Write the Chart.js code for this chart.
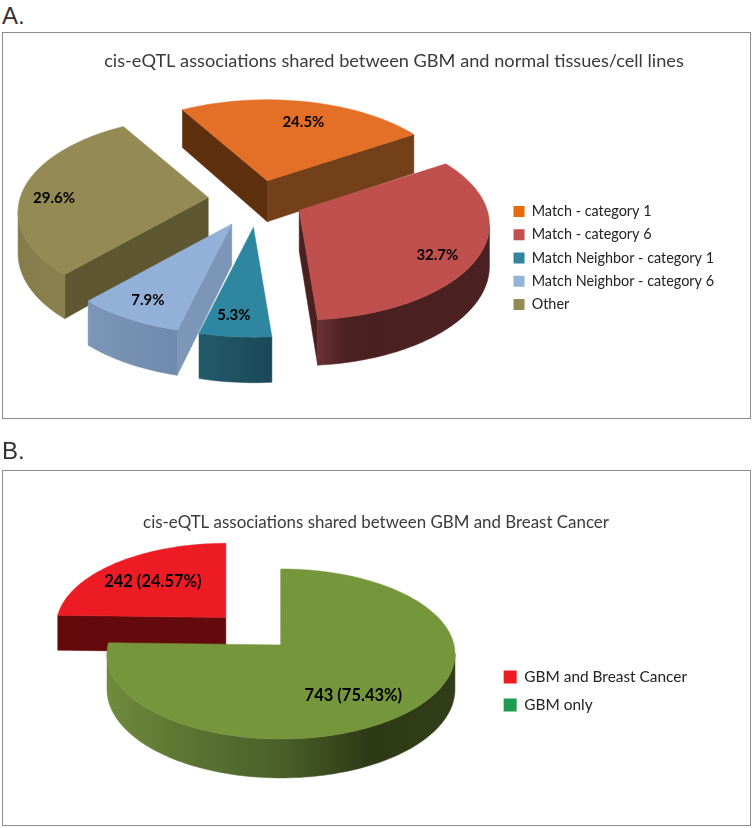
<!DOCTYPE html>
<html lang="en">
<head>
  <meta charset="UTF-8">
  <title>cis-eQTL associations</title>
  <script src="https://cdn.jsdelivr.net/npm/chart.js"></script>
  <style>
    html, body { margin: 0; padding: 0; width: 755px; height: 828px; overflow: hidden; background: #fff; }
    .tag { position: absolute; left: 2px; font: 24px "Liberation Sans", Arial, sans-serif; color: #333; line-height: 28px; }
    .box { position: absolute; left: 2px; width: 749px; border: 1.5px solid #8c8c8c; box-sizing: border-box; }
    canvas { position: absolute; left: 0; }
  </style>
</head>
<body>
  <div class="tag" style="top:2px">A.</div>
  <div class="box" style="top:32px;height:387px"></div>
  <canvas id="chartA" width="755" height="450" style="top:33px"></canvas>

  <div class="tag" style="top:437px">B.</div>
  <div class="box" style="top:470px;height:356px"></div>
  <canvas id="chartB" width="755" height="442" style="top:470px"></canvas>

  <script>
    const titleA = 'cis-eQTL associations shared between GBM and normal tissues/cell lines';
    const categoriesA = ['Match - category 1', 'Match - category 6', 'Match Neighbor - category 1', 'Match Neighbor - category 6', 'Other'];
    const valuesA = [24.5, 32.7, 5.3, 7.9, 29.6];
    const explodeA = [40, 46, 55, 55, 50];
    const legendColorsA = ['#e46c0a', '#c0504d', '#31859c', '#95b3d7', '#948a54'];
    const faceColorsA = ['#e46f27', '#c0504d', '#2e86a0', '#93b1d8', '#948a54'];
    const edgeColorsA = [['#5f300e', '#74401a'], ['#4a2020', '#4a2020'], ['#215868', '#215868'], ['#7b96b6', '#7b96b6'], ['#5e5732', '#5e5732']];
    const rimColorsA = [['#74401a'], ['#6b3032', '#4a2020', '#4a1f20', '#4a2020', '#4a2020', '#4a2020', '#4a2020'], ['#235b6b', '#1a4858'], ['#7b96b6', '#6f8aac'], ['#867c4b', '#8a804d']];
    const sizeA = [1, 1, 1, 1, 1];
    const labelAlongA = [0.54, 0.56, 0.58, 0.5, 0.44];
    const labelRadiusA = [0.73, 0.82, 0.83, 0.83, 0.82];
    const drawOrderA = [0, 4, 1, 3, 2];

    const titleB = 'cis-eQTL associations shared between GBM and Breast Cancer';
    const categoriesB = ['GBM and Breast Cancer', 'GBM only'];
    const valuesB = [242, 743];
    const explodeB = [69, 10];
    const legendColorsB = ['#ed1c24', '#1f9b4f'];
    const faceColorsB = ['#ed1c24', '#76963c'];
    const edgeColorsB = [['#640a0c', '#640a0c'], ['#76963c', '#76963c']];
    const rimColorsB = [['#640a0c'], ['#6f8b3c', '#5a7332', '#4a6028', '#2e3a16', '#303d18']];
    const sizeB = [0.975, 1];
    const labelAlongB = [0.49, 0.535];
    const labelRadiusB = [0.64, 0.69];
    const drawOrderB = [0, 1];

    // fake 3D: takes the angles and radius Chart.js worked out for each arc
    // and puts them through a small perspective projection
    const pie3d = {
      id: 'pie3d',
      beforeDatasetDraw() {
        return false; // the flat arcs are replaced below
      },
      afterDatasetsDraw(chart, args, o) {
        const ctx = chart.ctx;
        const arcs = chart.getDatasetMeta(0).data;

        function apex(arc) {
          const mid = (arc.startAngle + arc.endAngle) / 2;
          return {
            x: o.cx + arc.options.offset * Math.cos(mid),
            y: o.cy + arc.options.offset * o.tilt * Math.sin(mid),
            py: 0
          };
        }
        function project(arc, i, angle, rho) {
          const a = apex(arc);
          const r = arc.outerRadius * o.size[i];
          const px = rho * Math.cos(angle);
          const py = rho * Math.sin(angle);
          const s = 1 / (1 - o.perspective * py);
          return { x: a.x + r * px * s, y: a.y + r * o.tilt * py * s, py: py };
        }
        function drop(p) {
          return { x: p.x, y: p.y + o.depth / (1 - 0.1 * p.py) };
        }
        function fillPath(points, fill) {
          ctx.beginPath();
          points.forEach((p, i) => (i ? ctx.lineTo(p.x, p.y) : ctx.moveTo(p.x, p.y)));
          ctx.closePath();
          ctx.fillStyle = fill;
          ctx.fill();
          ctx.strokeStyle = fill;
          ctx.lineWidth = 0.5;
          ctx.stroke();
        }

        o.order.forEach((i) => {
          const arc = arcs[i];
          const a = apex(arc);
          const steps = Math.max(8, Math.round((arc.endAngle - arc.startAngle) * 40));
          const rim = [];
          for (let n = 0; n <= steps; n++) {
            rim.push(project(arc, i, arc.startAngle + (arc.endAngle - arc.startAngle) * n / steps, 1));
          }
          const first = rim[0];
          const last = rim[rim.length - 1];

          // only edges running right to left face the viewer
          if (last.x > a.x) fillPath([last, a, drop(a), drop(last)], o.edgeColors[i][1]);
          if (first.x < a.x) fillPath([a, first, drop(first), drop(a)], o.edgeColors[i][0]);

          const front = [];
          for (let n = 1; n < rim.length; n++) {
            if (rim[n].x < rim[n - 1].x) {
              if (!front.length) front.push(rim[n - 1]);
              front.push(rim[n]);
            }
          }
          if (front.length) {
            const grad = ctx.createLinearGradient(front[front.length - 1].x, 0, front[0].x, 0);
            const stops = o.rimColors[i];
            stops.forEach((c, n) => grad.addColorStop(stops.length > 1 ? n / (stops.length - 1) : 0, c));
            fillPath(front.concat(front.map(drop).reverse()), grad);
          }

          fillPath([a].concat(rim), o.faceColors[i]);
        });

        ctx.fillStyle = '#000';
        ctx.font = o.labelFont;
        ctx.textAlign = 'center';
        ctx.textBaseline = 'middle';
        arcs.forEach((arc, i) => {
          const angle = arc.startAngle + (arc.endAngle - arc.startAngle) * o.labelAlong[i];
          const p = project(arc, i, angle, o.labelRadius[i]);
          ctx.fillText(o.labelText(i), p.x, p.y);
        });
      }
    };

    function makePie(id, cfg) {
      return new Chart(document.getElementById(id), {
        type: 'pie',
        plugins: [pie3d],
        data: {
          labels: cfg.labels,
          datasets: [{
            data: cfg.values,
            backgroundColor: cfg.legendColors,
            borderWidth: 0,
            offset: cfg.explode
          }]
        },
        options: {
          responsive: false,
          animation: false,
          rotation: cfg.rotation,
          radius: cfg.radius,
          layout: { padding: cfg.padding },
          plugins: {
            tooltip: { enabled: false },
            title: {
              display: true,
              text: cfg.title,
              color: '#3a3a3a',
              font: { family: 'Lato', size: cfg.titleSize, weight: 'normal' },
              padding: cfg.titlePadding
            },
            legend: {
              position: 'right',
              labels: {
                color: '#222',
                font: { family: 'Lato', size: cfg.legendSize },
                boxWidth: cfg.boxWidth,
                boxHeight: cfg.boxWidth,
                padding: cfg.legendGap
              }
            },
            pie3d: cfg.pie
          }
        }
      });
    }

    makePie('chartA', {
      labels: categoriesA,
      values: valuesA,
      legendColors: legendColorsA,
      explode: explodeA,
      rotation: -30.7,
      radius: 188,
      title: titleA,
      titleSize: 18.2,
      titlePadding: { top: 17, bottom: 10 },
      padding: { left: 64, right: 31, top: 0, bottom: 0 },
      legendSize: 14.4,
      boxWidth: 11,
      legendGap: 8.8,
      pie: {
        cx: 258, cy: 167, tilt: 0.496, perspective: 0.152, depth: 41,
        order: drawOrderA,
        size: sizeA,
        faceColors: faceColorsA,
        edgeColors: edgeColorsA,
        rimColors: rimColorsA,
        labelAlong: labelAlongA,
        labelRadius: labelRadiusA,
        labelFont: 'bold 15px Lato',
        labelText: (i) => valuesA[i] + '%'
      }
    });

    const totalB = valuesB.reduce((a, b) => a + b, 0);
    makePie('chartB', {
      labels: categoriesB,
      values: valuesB,
      legendColors: legendColorsB,
      explode: explodeB,
      rotation: 271.55,
      radius: 173,
      title: titleB,
      titleSize: 16.9,
      titlePadding: { top: 42, bottom: 10 },
      padding: { left: 55, right: 58, top: 0, bottom: 0 },
      legendSize: 15.4,
      boxWidth: 13,
      legendGap: 12.8,
      pie: {
        cx: 274, cy: 171.5, tilt: 0.486, perspective: 0.106, depth: 35,
        order: drawOrderB,
        size: sizeB,
        faceColors: faceColorsB,
        edgeColors: edgeColorsB,
        rimColors: rimColorsB,
        labelAlong: labelAlongB,
        labelRadius: labelRadiusB,
        labelFont: 'bold 16.5px Lato',
        labelText: (i) => valuesB[i] + ' (' + (valuesB[i] / totalB * 100).toFixed(2) + '%)'
      }
    });
  </script>
</body>
</html>
